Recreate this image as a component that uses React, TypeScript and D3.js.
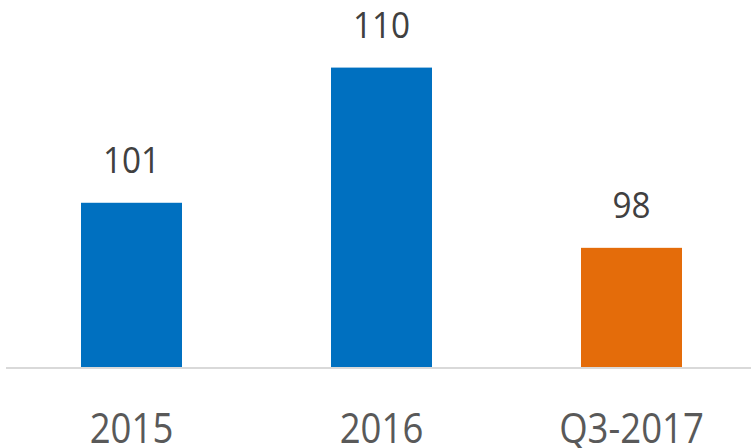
import React from "react";
import * as d3 from "d3";

const categories = ["2015", "2016", "Q3-2017"];
const values = [101, 110, 98];
const colors = ["#0070C0", "#0070C0", "#E46C0A"];

const W = 751;
const H = 448;

export default function App() {
  const x = d3
    .scaleBand<string>()
    .domain(categories)
    .range([6.5, 756.5])
    .paddingInner(0.596)
    .paddingOuter(0.298);
  const y = d3.scaleLinear().domain([90, 114.5]).range([368, 0]);
  const font = "'Open Sans', 'Noto Sans', sans-serif";

  return (
    <svg
      width={W}
      height={H}
      style={{ position: "absolute", left: 0, top: 0, background: "#fff" }}
    >
      {categories.map((c, i) => {
        const bx = x(c)!;
        const top = y(values[i]);
        return (
          <rect
            key={c}
            x={bx}
            y={top}
            width={x.bandwidth()}
            height={y(90) - top}
            fill={colors[i]}
          />
        );
      })}
      <line x1={6} x2={751} y1={368} y2={368} stroke="#d9d9d9" strokeWidth={2.2} />
      {categories.map((c, i) => {
        const cx = x(c)! + x.bandwidth() / 2;
        const by = y(values[i]) - 29.5;
        return (
          <text
            key={c + "v"}
            transform={`translate(${cx},${by}) scale(0.9,1)`}
            textAnchor="middle"
            fontFamily={font}
            fontSize={37}
            fill="#404040"
          >
            {values[i]}
          </text>
        );
      })}
      {categories.map((c) => {
        const cx = x(c)! + x.bandwidth() / 2;
        return (
          <text
            key={c + "a"}
            transform={`translate(${cx},443) scale(0.87,1)`}
            textAnchor="middle"
            fontFamily={font}
            fontSize={42}
            fill="#595959"
          >
            {c}
          </text>
        );
      })}
    </svg>
  );
}
